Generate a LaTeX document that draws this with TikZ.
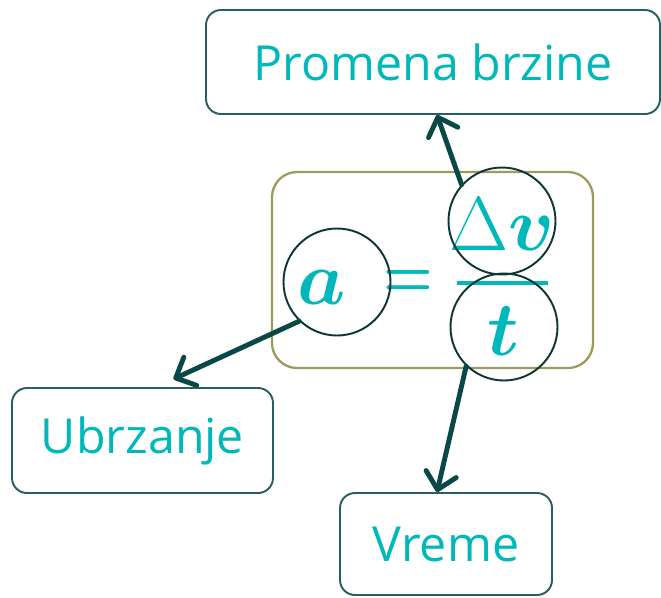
\documentclass[tikz,border=0pt]{standalone}
\usepackage{amsmath}
\usepackage{bm}
\usepackage{fontspec}
\newfontfamily\oznaka{Open Sans}
\usetikzlibrary{arrows.meta}
\definecolor{tirkiz}{RGB}{0,184,186}
\definecolor{okvirBoja}{RGB}{42,94,98}
\definecolor{strelica}{RGB}{10,72,72}
\definecolor{krug}{RGB}{14,52,52}
\definecolor{maslina}{RGB}{156,154,92}
\newcommand{\velikiSimbol}[1]{\scalebox{1.75}{\Huge$#1$}}

\begin{document}
\begin{tikzpicture}[
    every node/.style={font=\oznaka},
    pojam/.style={draw=okvirBoja, line width=1.1pt, rounded corners=0.3cm, text=tirkiz, font=\oznaka\fontsize{27.5}{30}\selectfont},
    kruzic/.style={draw=krug, line width=1.1pt, circle, minimum size=2.14cm, inner sep=0pt},
    simbol/.style={text=tirkiz, inner sep=0pt},
    veza/.style={draw=strelica, line width=2.8pt, line cap=round, -{Straight Barb[length=0.32cm, width=0.62cm, round]}}
]
\useasboundingbox (0,0) rectangle (13.22,-11.94);
% Formula
\node[draw=maslina, line width=1.3pt, rounded corners=0.5cm, minimum width=6.42cm, minimum height=3.92cm] (okvir) at (8.65,-5.40) {};
\node[simbol] (a) at (6.44,-5.74) {\velikiSimbol{\bm{a}}};
\node[simbol] (jednako) at (8.17,-5.68) {\scalebox{1.3}[1.6]{\Huge$\bm{=}$}};
\node[simbol] (dv) at (10.04,-4.48) {\velikiSimbol{\Delta\bm{v}}};
\node[simbol] (t) at (10.06,-6.62) {\velikiSimbol{\bm{t}}};
\draw[tirkiz, line width=2.2pt] (9.14,-5.66) -- (10.96,-5.66);
% Krugovi
\node[kruzic] (krugA) at (6.74,-5.64) {};
\node[kruzic] (krugDv) at (10.04,-4.42) {};
\node[kruzic] (krugT) at (10.08,-6.54) {};
% Pojmovi
\node[pojam, minimum width=9.08cm, minimum height=2.08cm] (promenaBrzine) at (8.66,-1.24) {Promena brzine};
\node[pojam, minimum width=5.22cm, minimum height=2.10cm] (ubrzanje) at (2.85,-8.81) {Ubrzanje};
\node[pojam, minimum width=4.24cm, minimum height=2.04cm] (vreme) at (8.92,-10.88) {Vreme};
% Strelice
\draw[veza] (krugDv.138) -- ([xshift=0.08cm]promenaBrzine.south);
\draw[veza] (krugA.226) -- ([xshift=0.62cm, yshift=0.16cm]ubrzanje.north);
\draw[veza] (krugT.226) -- ([xshift=-0.18cm]vreme.north);
\end{tikzpicture}
\end{document}
